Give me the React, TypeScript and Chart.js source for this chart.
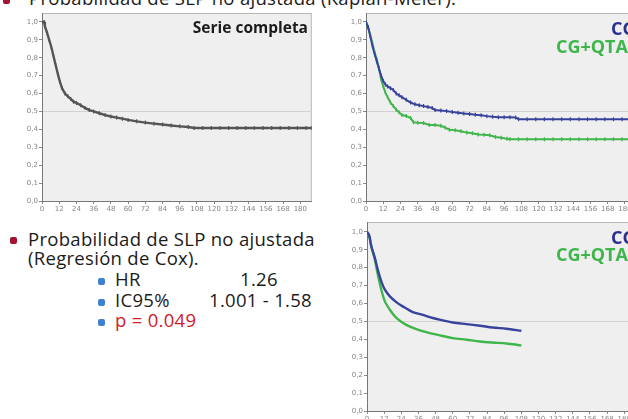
import React, { useEffect, useRef } from "react";
import { Chart, registerables } from "chart.js";
Chart.register(...registerables);

// ---------- DATA ----------
const monthTickStep = 12;
const survivalTickStep = 0.1;

// Serie completa (Kaplan-Meier, months, survival)
const serieCompleta: [number, number][] = [
  [0, 1.0], [1.5, 1.0], [2, 0.976], [3.5, 0.94], [5, 0.9], [6.5, 0.86], [8, 0.81], [9.5, 0.76],
  [11, 0.71], [12.5, 0.665], [14, 0.63], [16, 0.6], [18, 0.585], [20, 0.57], [22, 0.555],
  [24, 0.548], [27, 0.535], [30, 0.52], [33, 0.508], [36, 0.5], [40, 0.49], [44, 0.48],
  [48, 0.472], [52, 0.466], [56, 0.46], [60, 0.453], [66, 0.445], [72, 0.438], [78, 0.432],
  [84, 0.427], [90, 0.422], [96, 0.417], [102, 0.413], [106, 0.408], [112, 0.408], [118, 0.408],
  [124, 0.408], [130, 0.408], [136, 0.408], [142, 0.408], [148, 0.408], [154, 0.408],
  [160, 0.408], [166, 0.408], [172, 0.408], [178, 0.408], [184, 0.408], [188, 0.408],
];

// Top-right panel: CG vs CG+QTA (Kaplan-Meier)
const kmCG: [number, number][] = [
  [0, 1.0], [1.5, 0.97], [3, 0.92], [4.5, 0.865], [6, 0.82], [7.5, 0.78], [9, 0.74],
  [10.5, 0.7], [12, 0.67], [13.5, 0.65], [15, 0.64], [17, 0.63], [19, 0.62], [21, 0.6],
  [23, 0.59], [25, 0.58], [28, 0.565], [31, 0.55], [34, 0.54], [37, 0.535], [40, 0.53],
  [43, 0.525], [46, 0.52], [48, 0.508], [52, 0.505], [56, 0.502], [60, 0.497], [64, 0.493],
  [68, 0.489], [72, 0.486], [76, 0.482], [80, 0.479], [84, 0.474], [88, 0.47], [92, 0.468],
  [96, 0.468], [100, 0.468], [104, 0.467], [106, 0.457], [112, 0.457], [118, 0.457],
  [124, 0.457], [130, 0.457], [136, 0.457], [142, 0.457], [148, 0.457], [154, 0.457],
  [160, 0.457], [166, 0.457], [172, 0.457], [178, 0.457], [184, 0.457], [190, 0.457],
];
const kmCGQTA: [number, number][] = [
  [0, 1.0], [1.5, 0.97], [3, 0.925], [4.5, 0.88], [6, 0.83], [7.5, 0.79], [9, 0.74],
  [10.5, 0.68], [12, 0.64], [13.5, 0.605], [15, 0.58], [17, 0.55], [19, 0.53], [21, 0.51],
  [23, 0.495], [25, 0.48], [28, 0.475], [31, 0.463], [33, 0.44], [36, 0.437], [40, 0.435],
  [44, 0.425], [48, 0.425], [52, 0.42], [55, 0.41], [58, 0.398], [62, 0.395], [66, 0.39],
  [70, 0.382], [74, 0.378], [78, 0.372], [82, 0.37], [86, 0.367], [90, 0.358], [94, 0.353],
  [98, 0.348], [100, 0.345], [106, 0.345], [112, 0.345], [118, 0.345], [124, 0.345],
  [130, 0.345], [136, 0.345], [142, 0.345], [148, 0.345], [154, 0.345], [160, 0.345],
  [166, 0.345], [172, 0.345], [178, 0.345], [184, 0.345], [190, 0.345],
];

// Bottom-right panel: Cox-model curves
const coxCG: [number, number][] = [
  [0, 1.0], [1.5, 0.98], [3, 0.92], [5.5, 0.855], [7.5, 0.79], [10, 0.724], [12.5, 0.677],
  [16, 0.64], [20.5, 0.608], [25, 0.584], [32, 0.552], [39, 0.537], [46, 0.519], [53, 0.506],
  [60, 0.494], [69.5, 0.485], [79, 0.476], [88, 0.466], [97.5, 0.459], [108, 0.448],
];
const coxCGQTA: [number, number][] = [
  [0, 1.0], [1.5, 0.98], [3, 0.92], [5.5, 0.845], [7.5, 0.763], [10, 0.677], [12.5, 0.612],
  [16, 0.565], [19.5, 0.528], [23, 0.504], [27.5, 0.481], [34.5, 0.457], [41.5, 0.44],
  [51, 0.422], [60, 0.407], [69.5, 0.398], [79, 0.388], [88, 0.382], [97.5, 0.377], [108, 0.366],
];

// Text content
const titleText = "Probabilidad de SLP no ajustada (Kaplan-Meier).";
const coxTitle1 = "Probabilidad de SLP no ajustada";
const coxTitle2 = "(Regresión de Cox).";
const statLabels = ["HR", "IC95%"];
const statValues = ["1.26", "1.001 - 1.58"];
const pValueText = "p = 0.049";
const groupLabels = ["CG", "CG+QTA"];

// ---------- STYLE ----------
const BLUE = "#38439c";
const GREEN = "#3fb64b";
const GRAY_LINE = "#555555";
const FONT = "'Open Sans', 'DejaVu Sans', sans-serif";

const framePlugin = {
  id: "frame",
  beforeDraw(chart: any) {
    const { ctx, chartArea: a } = chart;
    ctx.save();
    ctx.fillStyle = "#efefef";
    ctx.fillRect(a.left, a.top, a.right - a.left, a.bottom - a.top);
    ctx.strokeStyle = "#b8b8b8";
    ctx.lineWidth = 1;
    ctx.strokeRect(a.left + 0.5, a.top + 0.5, a.right - a.left - 1, a.bottom - a.top);
    ctx.restore();
  },
};

type DS = { data: [number, number][]; color: string; marks: boolean; width: number; tension: number };

function KMChart(props: {
  left: number; top: number; width: number; height: number; padTop: number;
  yAxisWidth: number; xAxisHeight: number; xMax: number; yMax: number; series: DS[];
}) {
  const ref = useRef<HTMLCanvasElement>(null);
  useEffect(() => {
    const tickFont = { family: "'DejaVu Sans', sans-serif", size: 7 };
    const chart = new Chart(ref.current!, {
      type: "line",
      data: {
        datasets: props.series.map((s) => ({
          data: s.data.map(([x, y]) => ({ x, y })),
          borderColor: s.color,
          backgroundColor: s.color,
          borderWidth: s.width,
          tension: s.tension,
          pointStyle: "line",
          pointRotation: 90,
          pointRadius: s.marks ? 2 : 0,
          pointBorderWidth: 1.2,
          pointBorderColor: s.color,
          fill: false,
        })) as any,
      },
      options: {
        animation: false,
        responsive: false,
        devicePixelRatio: 1,
        layout: { padding: { top: props.padTop, left: 0, right: 0, bottom: 0 } },
        plugins: { legend: { display: false }, tooltip: { enabled: false } },
        scales: {
          x: {
            type: "linear",
            min: 0,
            max: props.xMax,
            ticks: {
              stepSize: monthTickStep,
              includeBounds: false,
              autoSkip: false,
              maxRotation: 0,
              font: tickFont,
              color: "#858585",
              padding: 1,
            },
            grid: { color: "rgba(0,0,0,0)", tickColor: "#888", tickLength: 3 },
            border: { color: "#777", width: 1 },
            afterFit: (s: any) => { s.height = props.xAxisHeight; },
          },
          y: {
            type: "linear",
            min: 0,
            max: props.yMax,
            ticks: {
              stepSize: survivalTickStep,
              includeBounds: false,
              font: tickFont,
              color: "#858585",
              padding: 1,
              callback: (v: any) => Number(v).toFixed(1).replace(".", ","),
            },
            grid: {
              color: (c: any) => (c.tick && Math.abs(c.tick.value - 0.5) < 1e-6 ? "#d2d2d2" : "rgba(0,0,0,0)"),
              tickColor: "#888",
              tickLength: 3,
            },
            border: { color: "#777", width: 1 },
            afterFit: (s: any) => { s.width = props.yAxisWidth; },
          },
        },
      } as any,
      plugins: [framePlugin],
    });
    return () => chart.destroy();
  }, []);
  return (
    <canvas
      ref={ref}
      width={props.width}
      height={props.height}
      style={{ position: "absolute", left: props.left, top: props.top, width: props.width, height: props.height }}
    />
  );
}

function Txt(p: { x: number; y: number; size: number; color?: string; bold?: boolean; children: any; right?: boolean; spacing?: number }) {
  // y is the baseline; Open Sans baseline sits 0.888em below the top with line-height 1
  const top = p.y - 0.888 * p.size;
  const style: any = {
    position: "absolute",
    top,
    fontFamily: FONT,
    fontSize: p.size,
    lineHeight: 1,
    fontWeight: p.bold ? 700 : 500,
    letterSpacing: p.spacing || 0,
    color: p.color || "#1b1b1b",
    whiteSpace: "nowrap",
  };
  if (p.right) {
    style.left = 0;
    style.width = p.x;
    style.textAlign = "right";
  } else {
    style.left = p.x;
  }
  return <div style={style}>{p.children}</div>;
}

function Bullet(p: { x: number; y: number; color: string; size: number }) {
  return (
    <div
      style={{
        position: "absolute",
        left: p.x - p.size / 2,
        top: p.y - p.size / 2,
        width: p.size,
        height: p.size,
        borderRadius: 2,
        background: p.color,
      }}
    />
  );
}

export default function App() {
  const fs = 18.5;
  const ls = 0.3;
  return (
    <div
      style={{
        position: "fixed",
        left: 0,
        top: 0,
        width: 628,
        height: 419,
        overflow: "hidden",
        background: "#ffffff",
      }}
    >
      {/* cut-off slide title */}
      <Bullet x={6} y={0} color="#a3122f" size={7} />
      <Txt x={29} y={5} size={fs} spacing={ls}>{titleText}</Txt>

      {/* Serie completa */}
      <KMChart left={10} top={5} width={307} height={212} padTop={8} yAxisWidth={32} xAxisHeight={16}
        xMax={188} yMax={1.05}
        series={[{ data: serieCompleta, color: GRAY_LINE, marks: true, width: 2.4, tension: 0 }]} />
      <Txt x={308} y={34} size={15.5} bold right>Serie completa</Txt>

      {/* Top right KM */}
      <KMChart left={336} top={5} width={310} height={212} padTop={8} yAxisWidth={30} xAxisHeight={16}
        xMax={191} yMax={1.05}
        series={[
          { data: kmCG, color: BLUE, marks: true, width: 2, tension: 0 },
          { data: kmCGQTA, color: GREEN, marks: true, width: 2, tension: 0 },
        ]} />
      <Txt x={611} y={35} size={18} bold color="#2b3090">{groupLabels[0]}</Txt>
      <Txt x={556} y={53} size={18} bold color={GREEN}>{groupLabels[1]}</Txt>

      {/* Bottom right Cox */}
      <KMChart left={336} top={214} width={304} height={213} padTop={8} yAxisWidth={31} xAxisHeight={16}
        xMax={191} yMax={1.055}
        series={[
          { data: coxCG, color: BLUE, marks: false, width: 2.4, tension: 0.3 },
          { data: coxCGQTA, color: GREEN, marks: false, width: 2.4, tension: 0.3 },
        ]} />
      <Txt x={611} y={244} size={18} bold color="#2b3090">{groupLabels[0]}</Txt>
      <Txt x={556} y={261} size={18} bold color={GREEN}>{groupLabels[1]}</Txt>

      {/* Cox regression text */}
      <Bullet x={13} y={240} color="#a3122f" size={7} />
      <Txt x={28} y={246.7} size={fs} spacing={ls}>{coxTitle1}</Txt>
      <Txt x={28} y={265} size={fs} spacing={ls}>{coxTitle2}</Txt>

      <Bullet x={101} y={281} color="#3f80cf" size={7} />
      <Txt x={115} y={286} size={fs} spacing={ls}>{statLabels[0]}</Txt>
      <Txt x={240} y={286} size={fs} spacing={ls}>{statValues[0]}</Txt>

      <Bullet x={101} y={302} color="#3f80cf" size={7} />
      <Txt x={115} y={307} size={fs} spacing={ls}>{statLabels[1]}</Txt>
      <Txt x={209} y={307} size={fs} spacing={ls}>{statValues[1]}</Txt>

      <Bullet x={101} y={322} color="#3f80cf" size={7} />
      <Txt x={115} y={327} size={fs} spacing={ls} color="#d0202a">{pValueText}</Txt>
    </div>
  );
}
